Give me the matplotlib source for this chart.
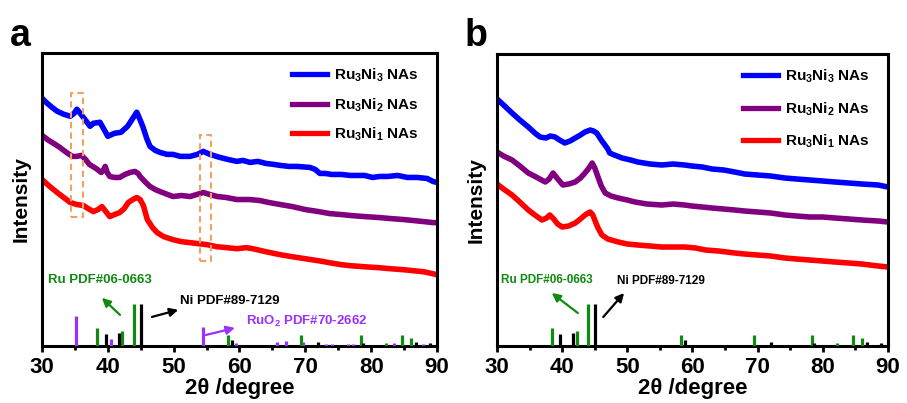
import matplotlib
matplotlib.use("Agg")
import matplotlib.pyplot as plt
from matplotlib.patches import Rectangle
from matplotlib.lines import Line2D

plt.rcParams["font.family"] = ["Liberation Sans", "DejaVu Sans"]
plt.rcParams["font.weight"] = "bold"
plt.rcParams["mathtext.fontset"] = "custom"
plt.rcParams["mathtext.rm"] = "Liberation Sans"
plt.rcParams["mathtext.bf"] = "Liberation Sans:bold"

# ---- panel a: measured patterns (2theta, intensity a.u.) ----
a_blue_tt = [30.0, 30.6, 31.5, 32.3, 33.3, 34.3, 34.9, 35.3, 35.8, 36.5, 37.3, 37.8, 38.8, 39.5,
             40.0, 41.0, 42.0, 43.0, 44.0, 44.4, 44.8, 45.3, 45.9, 46.4, 47.2, 47.9, 49.0, 49.9,
             51.0, 52.5, 53.6, 54.5, 55.5, 57.0, 58.2, 59.6, 60.5, 61.6, 62.8, 64.0, 65.2, 66.2,
             67.5, 68.7, 70.7, 71.5, 72.2, 73.0, 74.0, 75.5, 76.8, 78.0, 79.0, 80.2, 81.3, 82.5,
             84.0, 85.5, 87.0, 88.5, 89.4, 90.0]
a_blue_i = [247, 243, 238, 234, 231, 229, 232, 236, 232, 226, 219, 222, 223, 215,
            209, 212, 213, 219, 229, 233, 227, 219, 207, 199, 195, 193, 191, 191,
            189, 189, 191, 194, 191, 188, 186, 184, 185, 183, 184, 182, 181, 180,
            179, 179, 178, 176, 172, 172, 171, 171, 170, 170, 170, 168, 169, 169,
            170, 168, 168, 167, 164, 163]

a_purple_tt = [30.0, 31.0, 32.0, 32.7, 33.7, 34.6, 35.3, 36.0, 36.6, 37.2, 38.2, 39.0, 39.4, 39.6,
               39.9, 40.3, 41.0, 41.8, 42.6, 43.4, 44.1, 44.6, 44.9, 45.6, 46.4, 47.2, 47.9, 49.9,
               51.2, 52.5, 53.5, 54.5, 55.5, 56.6, 58.0, 59.6, 61.5, 63.1, 64.5, 66.2, 68.0, 70.0,
               72.0, 73.7, 75.5, 77.0, 79.0, 81.3, 83.0, 85.0, 86.5, 88.0, 89.4, 90.0]
a_purple_i = [210, 205, 201, 198, 193, 189, 189, 190, 186, 181, 177, 173, 176, 179,
              173, 169, 168, 168, 171, 173, 174, 172, 169, 164, 159, 156, 154, 149,
              150, 149, 151, 153, 151, 149, 148, 146, 146, 145, 143, 141, 139, 136,
              134, 132, 131, 130, 129, 128, 127, 126, 125, 124, 123, 123]

a_red_tt = [30.0, 31.0, 32.3, 33.3, 34.3, 35.3, 36.3, 37.0, 37.8, 38.5, 39.1, 39.7, 40.3, 41.0,
            41.8, 42.5, 43.1, 43.8, 44.4, 44.9, 45.4, 46.0, 46.8, 47.5, 48.5, 49.9, 51.2, 52.5,
            53.8, 55.1, 56.5, 58.1, 59.6, 61.0, 62.0, 64.0, 66.2, 68.0, 70.0, 72.0, 73.7, 75.5,
            77.0, 79.0, 81.3, 83.0, 85.0, 86.5, 88.0, 89.4, 90.0]
a_red_i = [166, 160, 153, 148, 143, 141, 140, 137, 134, 136, 139, 134, 129, 131,
           133, 137, 143, 146, 148, 146, 140, 126, 118, 113, 109, 106, 104, 103,
           102, 101, 99, 98, 97, 98, 97, 94, 91, 89, 87, 85, 83, 81,
           80, 79, 78, 77, 76, 75, 74, 72, 71]

# ---- panel b ----
b_blue_tt = [30.0, 31.0, 32.3, 33.5, 34.8, 35.8, 36.6, 37.5, 38.2, 38.9, 39.6, 40.4, 41.2, 42.0,
             42.8, 43.5, 44.3, 44.8, 45.3, 46.0, 47.0, 47.3, 48.0, 49.2, 50.5, 51.6, 53.5, 55.3,
             57.0, 58.8, 59.9, 61.5, 63.0, 64.8, 66.5, 68.0, 70.0, 72.0, 74.2, 76.0, 78.0, 80.0,
             81.9, 84.0, 86.0, 88.5, 90.0]
b_blue_i = [247, 241, 233, 226, 219, 213, 209, 208, 210, 209, 206, 203, 205, 208,
            211, 214, 216, 215, 213, 206, 197, 193, 191, 188, 186, 184, 182, 181,
            182, 181, 180, 179, 177, 176, 174, 172, 171, 170, 168, 167, 166, 165,
            164, 163, 162, 161, 159]

b_purple_tt = [30.0, 31.0, 32.3, 33.5, 34.8, 36.0, 37.4, 38.0, 38.6, 39.2, 40.1, 41.0, 42.0, 42.8,
               43.5, 44.1, 44.6, 45.0, 45.5, 46.0, 46.6, 47.5, 48.6, 50.0, 51.2, 53.0, 55.3, 57.0,
               58.8, 59.9, 61.5, 63.0, 64.8, 66.5, 68.0, 70.0, 72.0, 74.2, 76.0, 78.0, 80.0, 81.9,
               84.0, 86.0, 88.5, 90.0]
b_purple_i = [194, 190, 186, 180, 173, 169, 164, 167, 173, 168, 161, 162, 164, 168,
              173, 178, 183, 178, 169, 160, 153, 150, 148, 146, 144, 142, 141, 142,
              141, 140, 139, 138, 137, 136, 135, 134, 133, 131, 130, 129, 129, 128,
              127, 126, 125, 124]

b_red_tt = [30.0, 31.0, 32.3, 33.5, 34.8, 35.8, 36.9, 37.6, 38.1, 38.7, 39.3, 40.0, 41.0, 42.0,
            42.8, 43.5, 44.0, 44.3, 44.7, 45.0, 45.5, 46.1, 47.0, 48.6, 50.0, 51.6, 53.5, 55.3,
            57.0, 58.8, 60.5, 62.0, 64.0, 66.5, 68.0, 70.0, 72.0, 74.2, 76.0, 78.0, 80.0, 81.9,
            84.0, 86.0, 88.5, 90.0]
b_red_i = [162, 157, 151, 144, 136, 131, 126, 128, 131, 127, 122, 119, 120, 123,
           127, 131, 133, 134, 131, 126, 118, 111, 107, 104, 102, 101, 100, 99,
           99, 99, 98, 96, 95, 93, 92, 91, 90, 88, 87, 86, 85, 84,
           83, 82, 80, 79]

# ---- reference cards (stick patterns) ----
ru_pos = [38.4, 42.2, 44.0, 58.3, 69.4, 78.4, 82.2, 84.7, 86.0]
ru_h = [18, 15, 42, 11, 11, 11, 3, 11, 8]
ni_pos = [39.7, 41.7, 45.1, 58.9, 72.0, 78.7, 86.8, 89.0]
ni_h = [12, 13, 42, 6, 4, 3, 4, 3]
ruo2_pos = [35.1, 40.5, 54.4, 59.5, 65.7, 67.0, 69.7, 73.2, 74.0, 76.5, 77.2, 83.4, 87.9]
ruo2_h = [30, 7, 19, 3, 4, 5, 4, 2, 2, 2, 2, 3, 2]

labels = [r"Ru$_3$Ni$_3$ NAs", r"Ru$_3$Ni$_2$ NAs", r"Ru$_3$Ni$_1$ NAs"]
colors = ["#0000FF", "#800080", "#FF0000"]
GREEN = "#108A10"
VIOLET = "#9B30FF"

fig = plt.figure(figsize=(9.07, 4.03), dpi=100)
ax_a = fig.add_axes([0.0463, 0.1414, 0.4355, 0.727])
ax_b = fig.add_axes([0.548, 0.1414, 0.431, 0.7246])


def style_axes(ax):
    ax.set_xlim(30, 90)
    ax.set_ylim(0, 292)
    ax.set_xticks([30, 40, 50, 60, 70, 80, 90])
    ax.set_xticks([35, 45, 55, 65, 75, 85], minor=True)
    ax.set_yticks([])
    for s in ax.spines.values():
        s.set_linewidth(2.2)
    ax.tick_params(axis="x", which="major", direction="out", length=4, width=2, pad=4,
                   labelsize=16)
    ax.tick_params(axis="x", which="minor", direction="out", length=3, width=2)
    for lab in ax.get_xticklabels():
        lab.set_fontweight("bold")
    ax.set_xlabel("2θ /degree", fontsize=16, fontweight="bold", labelpad=0)
    ax.set_ylabel("Intensity", fontsize=15, fontweight="bold", labelpad=8)


def sticks(ax, pos, h, color):
    ax.vlines(pos, 0, h, colors=color, linewidth=2.3, zorder=3)


def legend(ax, anchor, spacing):
    handles = [Line2D([], [], color=c, lw=3.8) for c in colors]
    ax.legend(handles, labels, loc="upper right", bbox_to_anchor=anchor, frameon=False,
              handlelength=2.3, handletextpad=0.5, labelspacing=spacing,
              prop={"weight": "bold", "size": 11})


# panel a
for tt, ii, c in zip([a_blue_tt, a_purple_tt, a_red_tt], [a_blue_i, a_purple_i, a_red_i], colors):
    ax_a.plot(tt, ii, color=c, lw=4, solid_joinstyle="round")
sticks(ax_a, ruo2_pos, ruo2_h, VIOLET)
sticks(ax_a, ru_pos, ru_h, GREEN)
sticks(ax_a, ni_pos, ni_h, "black")
for x0, y0, w, h in [(34.4, 129, 1.8, 123), (54.0, 85, 1.6, 125)]:
    ax_a.add_patch(Rectangle((x0, y0), w, h, fill=False, edgecolor="#F4A060",
                             linestyle=(0, (3, 2)), linewidth=1.5, zorder=4))
ax_a.text(38.8, 66, "Ru PDF#06-0663", color=GREEN, fontsize=9.5, fontweight="bold",
          ha="center", va="center")
ax_a.text(51.0, 45, "Ni PDF#89-7129", color="black", fontsize=9.5, fontweight="bold",
          ha="left", va="center")
ax_a.text(61.0, 24, r"RuO$_2$ PDF#70-2662", color=VIOLET, fontsize=9.5, fontweight="bold",
          ha="left", va="center")
arrow = dict(arrowstyle="-|>,head_length=0.5,head_width=0.25", lw=1.6, shrinkA=0, shrinkB=0)
ax_a.annotate("", xy=(39.1, 48), xytext=(41.85, 31), arrowprops=dict(arrow, color=GREEN))
ax_a.annotate("", xy=(50.7, 36), xytext=(46.7, 29), arrowprops=dict(arrow, color="black"))
ax_a.annotate("", xy=(59.3, 18), xytext=(54.9, 11), arrowprops=dict(arrow, color=VIOLET))
style_axes(ax_a)
legend(ax_a, (0.99, 1.0), 0.75)

# panel b
for tt, ii, c in zip([b_blue_tt, b_purple_tt, b_red_tt], [b_blue_i, b_purple_i, b_red_i], colors):
    ax_b.plot(tt, ii, color=c, lw=4, solid_joinstyle="round")
sticks(ax_b, ru_pos, ru_h, GREEN)
sticks(ax_b, ni_pos, ni_h, "black")
ax_b.text(37.7, 66, "Ru PDF#06-0663", color=GREEN, fontsize=8.5, fontweight="bold",
          ha="center", va="center")
ax_b.text(48.4, 65, "Ni PDF#89-7129", color="black", fontsize=8.5, fontweight="bold",
          ha="left", va="center")
ax_b.annotate("", xy=(38.4, 53), xytext=(42.4, 33), arrowprops=dict(arrow, color=GREEN))
ax_b.annotate("", xy=(49.5, 53), xytext=(46.3, 29), arrowprops=dict(arrow, color="black"))
style_axes(ax_b)
legend(ax_b, (0.99, 1.0), 0.95)

fig.text(0.011, 0.91, "a", fontsize=27, fontweight="bold", va="center")
fig.text(0.512, 0.91, "b", fontsize=27, fontweight="bold", va="center")

fig.savefig("out.png", dpi=100)
